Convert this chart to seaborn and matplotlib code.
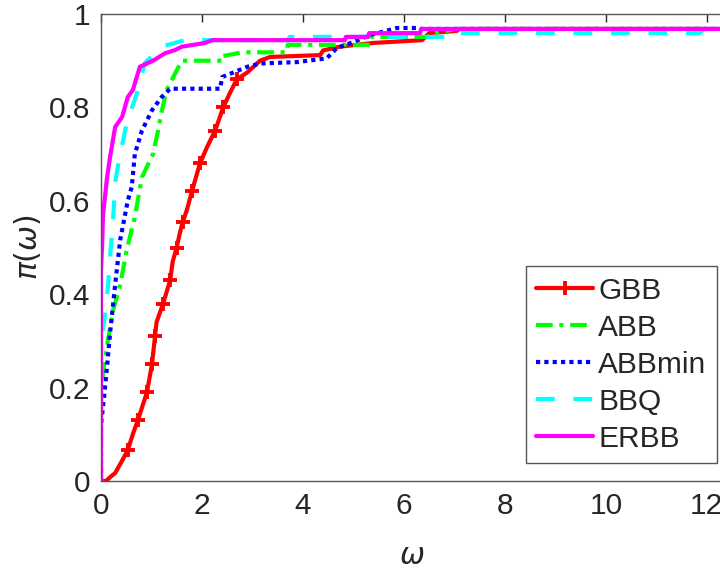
import pandas as pd
import matplotlib
matplotlib.use('Agg')
import matplotlib.pyplot as plt
import seaborn as sns

# performance profile values
gbb_x = [0, 0.1, 0.2, 0.28, 0.4, 0.53, 0.63, 0.73, 0.82, 0.91, 1.01, 1.07, 1.1, 1.23, 1.37, 1.42,
         1.5, 1.56, 1.62, 1.7, 1.8, 1.88, 1.96, 2.1, 2.26, 2.42, 2.55, 2.69, 2.9, 3.15, 3.35, 4.34,
         4.4, 4.73, 5.39, 6.36, 6.5, 7.05, 7.1, 12.3]
gbb_y = [0, 0.0, 0.01, 0.017, 0.04, 0.066, 0.1, 0.13, 0.16, 0.19, 0.25, 0.31, 0.34, 0.38, 0.43, 0.47,
         0.50, 0.53, 0.555, 0.58, 0.62, 0.65, 0.68, 0.715, 0.75, 0.80, 0.83, 0.86, 0.875, 0.90, 0.908, 0.912,
         0.922, 0.93, 0.938, 0.944, 0.959, 0.964, 0.968, 0.968]
gbb_marks = [0, 5, 7, 9, 10, 11, 13, 14, 16, 18, 20, 22, 24, 25, 27]

abb_x = [0, 0, 0.05, 0.12, 0.24, 0.38, 0.51, 0.67, 0.81, 1.03, 1.13, 1.2, 1.3, 1.47, 1.6, 2.42,
         2.42, 2.8, 3.68, 3.7, 5.33, 5.35, 6.5, 6.52, 6.85, 7.0, 12.3]
abb_y = [0, 0.2, 0.24, 0.29, 0.366, 0.42, 0.495, 0.565, 0.65, 0.70, 0.75, 0.79, 0.837, 0.873, 0.90, 0.90,
         0.91, 0.918, 0.918, 0.934, 0.934, 0.951, 0.951, 0.959, 0.964, 0.968, 0.968]

abbmin_x = [0, 0, 0.06, 0.12, 0.18, 0.28, 0.38, 0.53, 0.61, 0.67, 0.81, 1.01, 1.2, 1.37, 2.36, 2.4,
            2.9, 3.15, 3.88, 4.47, 4.67, 5.0, 5.33, 5.86, 6.3, 6.35, 12.3]
abbmin_y = [0, 0.12, 0.18, 0.245, 0.317, 0.42, 0.516, 0.60, 0.63, 0.70, 0.75, 0.794, 0.822, 0.84, 0.84, 0.865,
            0.887, 0.894, 0.897, 0.905, 0.927, 0.94, 0.955, 0.97, 0.97, 0.968, 0.968]

bbq_x = [0, 0, 0.08, 0.14, 0.18, 0.24, 0.28, 0.38, 0.51, 0.71, 0.87, 1.2, 1.66, 3.7, 3.74, 6.8,
         6.85, 11.85, 11.95, 12.3]
bbq_y = [0, 0.3, 0.355, 0.42, 0.48, 0.56, 0.64, 0.70, 0.766, 0.83, 0.895, 0.93, 0.944, 0.944, 0.951, 0.951,
         0.959, 0.959, 0.968, 0.968]

erbb_x = [0, 0, 0.02, 0.04, 0.08, 0.12, 0.18, 0.28, 0.42, 0.53, 0.63, 0.77, 1.03, 1.27, 1.47, 1.6,
          2.06, 2.2, 4.83, 4.85, 5.29, 5.31, 6.32, 6.34, 12.3]
erbb_y = [0, 0.45, 0.5, 0.57, 0.61, 0.65, 0.694, 0.758, 0.78, 0.822, 0.837, 0.887, 0.90, 0.916, 0.923, 0.93,
          0.938, 0.944, 0.944, 0.951, 0.951, 0.959, 0.959, 0.968, 0.968]

names = ['GBB', 'ABB', 'ABBmin', 'BBQ', 'ERBB']
xs = [gbb_x, abb_x, abbmin_x, bbq_x, erbb_x]
ys = [gbb_y, abb_y, abbmin_y, bbq_y, erbb_y]
colors = ['#ff0000', '#00ff00', '#0000ff', '#00ffff', '#ff00ff']
dashes = [None, (0, (4, 1.6, 1, 1.6)), (0, (1, 1)), (0, (4.5, 4.5)), None]

sns.set_style('white')
plt.rcParams['font.family'] = ['Liberation Sans', 'DejaVu Sans']
plt.rcParams['mathtext.fontset'] = 'dejavusans'

fig = plt.figure(figsize=(7.2, 5.74), dpi=100)
ax = fig.add_axes([101 / 720, 93 / 574, 621 / 720, 467 / 574])

for i, name in enumerate(names):
    df = pd.DataFrame({'omega': xs[i], 'pi': ys[i]})
    kw = dict(x='omega', y='pi', data=df, ax=ax, sort=False, estimator=None,
              color=colors[i], linewidth=3, label=name)
    if name == 'GBB':
        kw.update(marker='+', markersize=10, markeredgewidth=2.8,
                  markeredgecolor=colors[i], markevery=gbb_marks)
    sns.lineplot(**kw)
    if dashes[i] is not None:
        ax.lines[-1].set_linestyle(dashes[i])

ax.set_xlim(0, 12.3)
ax.set_ylim(0, 1)
ax.set_xticks([0, 2, 4, 6, 8, 10, 12])
ax.set_xticklabels(['0', '2', '4', '6', '8', '10', '12'])
ax.set_yticks([0, 0.2, 0.4, 0.6, 0.8, 1])
ax.set_yticklabels(['0', '0.2', '0.4', '0.6', '0.8', '1'])
ax.tick_params(direction='in', length=6, width=1, top=True, right=False,
               labelsize=21.5, colors='#262626', pad=8)
for sp in ax.spines.values():
    sp.set_color('#555555')
    sp.set_linewidth(1)

ax.set_xlabel(r'$\omega$', fontsize=21.5, color='#262626', labelpad=16)
ax.set_ylabel(r'$\pi(\omega)$', fontsize=21.5, color='#262626', labelpad=4)

leg = ax.legend(loc='lower right', bbox_to_anchor=(717 / 720, 111 / 574),
                bbox_transform=fig.transFigure, borderaxespad=0, fontsize=21.5,
                handlelength=1.9, handletextpad=0.17, labelspacing=0.3,
                fancybox=False, framealpha=1, borderpad=0.35)
leg.get_frame().set_edgecolor('#555555')
leg.get_frame().set_linewidth(1)

fig.savefig('out.png', dpi=100)
